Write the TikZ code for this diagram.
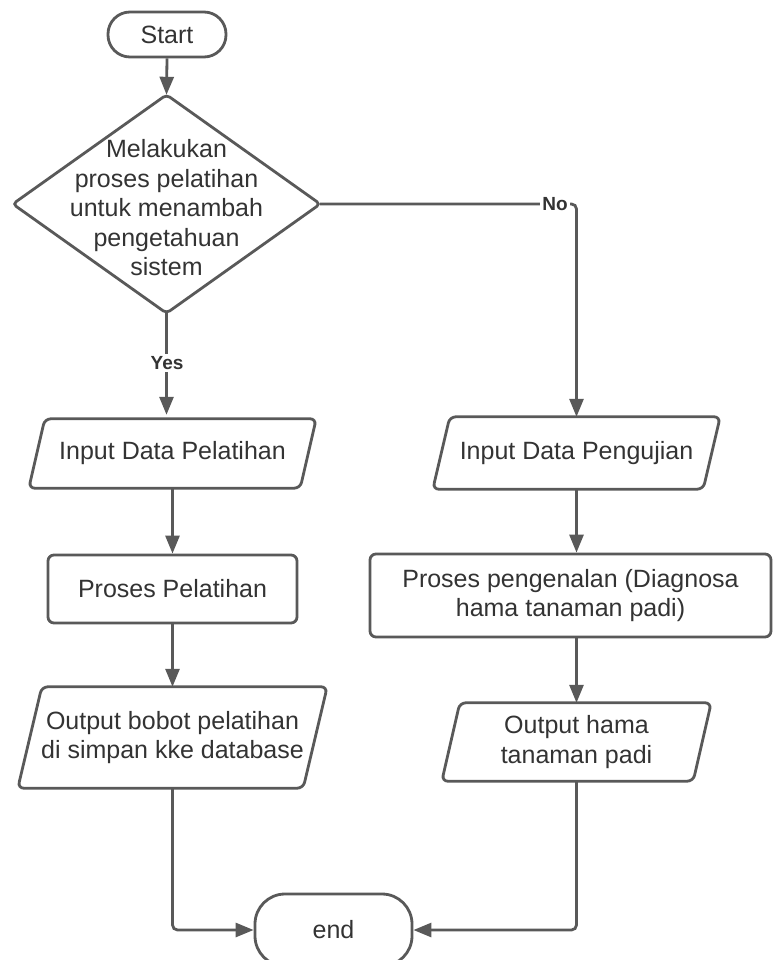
\documentclass[tikz,border=0pt]{standalone}
\usepackage{fontspec}
\setmainfont{Liberation Sans}
\usetikzlibrary{arrows.meta}
\definecolor{lc}{HTML}{595959}
\definecolor{tc}{HTML}{333333}
\begin{document}
\begin{tikzpicture}[x=1pt,y=-1pt,
  every node/.style={text=tc, font=\fontsize{25}{29.5}\selectfont, inner sep=0pt, align=center},
  shp/.style={draw=lc, line width=2.8pt},
  boxs/.style={shp, rounded corners=6pt},
  term/.style={shp, rounded corners=22pt},
  ghost/.style={draw=none},
  conn/.style={draw=lc, line width=2.8pt, rounded corners=5pt},
  arr/.style={conn, -{Triangle[length=18pt,width=14pt]}},
  lbl/.style={fill=white, font=\bfseries\fontsize{19}{22}\selectfont, inner sep=2pt}
]
\useasboundingbox (0,0) rectangle (772,960);

% nodes
\node[term, minimum width=118pt, minimum height=45pt] (start) at (167,34.5) {Start};
\node[ghost, minimum width=307pt, minimum height=218pt] (dec) at (166.5,208)
  {Melakukan\\proses pelatihan\\untuk menambah\\pengetahuan\\sistem};
\node[ghost, minimum width=287pt, minimum height=69pt] (in1) at (172.5,453.5) {Input Data Pelatihan};
\node[boxs, minimum width=249pt, minimum height=68pt] (p1) at (172.5,589) {Proses Pelatihan};
\node[ghost, minimum width=309pt, minimum height=101pt] (o1) at (172.5,737.5)
  {Output bobot pelatihan\\di simpan kke database};
\node[ghost, minimum width=287pt, minimum height=72pt] (in2) at (576.5,453) {Input Data Pengujian};
\node[boxs, minimum width=401pt, minimum height=83pt] (p2) at (570.5,595.5)
  {Proses pengenalan (Diagnosa\\hama tanaman padi)};
\node[ghost, minimum width=269pt, minimum height=78pt] (o2) at (576.5,742)
  {Output hama\\tanaman padi};
\node[term, minimum width=157pt, minimum height=72pt, rounded corners=30pt] (end) at (333.5,930) {end};

% diamond outline
\draw[shp, rounded corners=4pt] ([yshift=4pt]dec.north) -- ([yshift=4pt]dec.east) -- ([yshift=4pt]dec.south) -- ([yshift=4pt]dec.west) -- cycle;
% parallelograms
\draw[shp, rounded corners=6pt] ([xshift=16pt]in1.north west) -- (in1.north east) -- ([xshift=-16pt]in1.south east) -- (in1.south west) -- cycle;
\draw[shp, rounded corners=6pt] ([xshift=24pt]o1.north west) -- (o1.north east) -- ([xshift=-24pt]o1.south east) -- (o1.south west) -- cycle;
\draw[shp, rounded corners=6pt] ([xshift=17pt]in2.north west) -- (in2.north east) -- ([xshift=-17pt]in2.south east) -- (in2.south west) -- cycle;
\draw[shp, rounded corners=6pt] ([xshift=18pt]o2.north west) -- (o2.north east) -- ([xshift=-18pt]o2.south east) -- (o2.south west) -- cycle;

% connectors
\draw[arr] (start.south) -- ([yshift=4pt]dec.north);
\draw[arr] ([yshift=4pt]dec.south) -- ([yshift=4pt]dec.south |- in1.north);
\draw[arr] ([yshift=4pt]dec.east) -- ([yshift=4pt]in2.north |- dec.east) -- (in2.north);
\draw[arr] (in1.south) -- (p1.north);
\draw[arr] (p1.south) -- (o1.north);
\draw[arr] (in2.south) -- (in2.south |- p2.north);
\draw[arr] (o2.north |- p2.south) -- (o2.north);
\draw[arr] (o1.south) -- (o1.south |- end.west) -- (end.west);
\draw[arr] (o2.south) -- (o2.south |- end.east) -- (end.east);

% labels
\node[lbl] (no) at (555,204) {No};
\node[lbl] (yes) at (167,363) {Yes};
\end{tikzpicture}
\end{document}
